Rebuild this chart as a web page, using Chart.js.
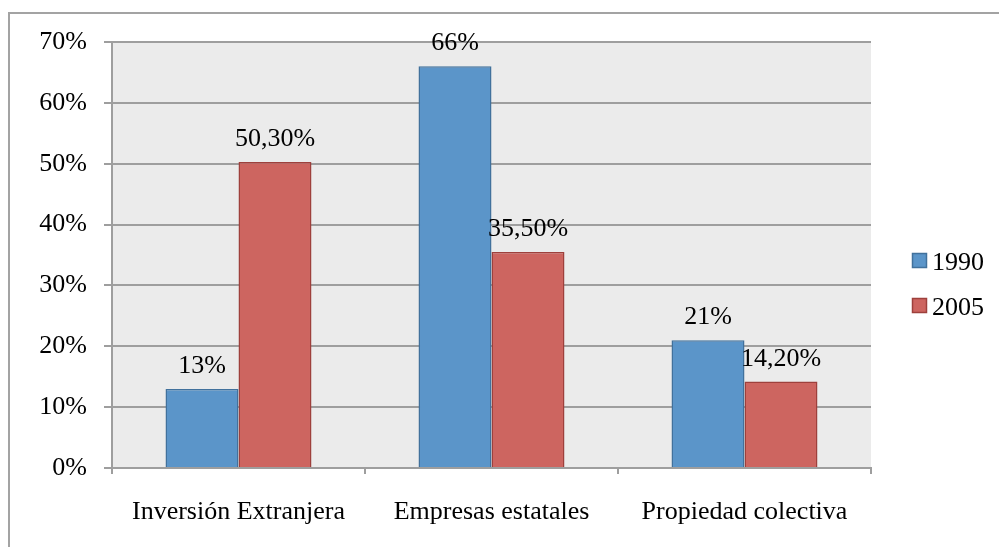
<!DOCTYPE html>
<html>
<head>
<meta charset="utf-8">
<script src="https://cdn.jsdelivr.net/npm/chart.js@4/dist/chart.umd.min.js"></script>
<style>
  html, body { margin: 0; padding: 0; background: #ffffff; }
  #wrap { width: 999px; height: 547px; }
</style>
</head>
<body>
<div id="wrap"><canvas id="ownershipChart" width="999" height="547"></canvas></div>
<script>
// Chart data
const categories = ['Inversión Extranjera', 'Empresas estatales', 'Propiedad colectiva'];
const seriesNames = ['1990', '2005'];
const values1990 = [13, 66, 21];
const values2005 = [50.3, 35.5, 14.2];
const labels1990 = ['13%', '66%', '21%'];
const labels2005 = ['50,30%', '35,50%', '14,20%'];
const yTicks = [0, 10, 20, 30, 40, 50, 60, 70];

const FONT = "'Liberation Serif', 'Times New Roman', serif";
const GRID = '#9e9e9e';

const fills = ['#5b95c9', '#cd6560'];
const borders = ['#41719c', '#9e403c'];
const valueLabels = [labels1990, labels2005];

// plot area background + outer frame
const backdrop = {
    id: 'backdrop',
    beforeDraw(chart) {
        const { ctx, chartArea: a } = chart;
        ctx.save();
        ctx.fillStyle = '#ebebeb';
        ctx.fillRect(a.left, a.top, a.right - a.left, a.bottom - a.top);
        ctx.strokeStyle = '#a3a3a3';
        ctx.lineWidth = 2;
        ctx.strokeRect(9, 13, 1020, 560);
        ctx.restore();
    }
};

// value labels over each bar
const barValues = {
    id: 'barValues',
    afterDatasetsDraw(chart) {
        const ctx = chart.ctx;
        ctx.save();
        ctx.font = '26px ' + FONT;
        ctx.fillStyle = '#000';
        ctx.textAlign = 'center';
        ctx.textBaseline = 'alphabetic';
        chart.data.datasets.forEach((ds, i) => {
            chart.getDatasetMeta(i).data.forEach((bar, j) => {
                ctx.fillText(valueLabels[i][j], bar.x, bar.y - 16);
            });
        });
        ctx.restore();
    }
};

// legend on the right
const sideLegend = {
    id: 'sideLegend',
    afterDraw(chart) {
        const ctx = chart.ctx;
        ctx.save();
        ctx.font = '26px ' + FONT;
        ctx.textAlign = 'left';
        ctx.textBaseline = 'middle';
        chart.data.datasets.forEach((ds, i) => {
            const y = 253 + i * 45;
            ctx.fillStyle = ds.backgroundColor;
            ctx.fillRect(912, y, 15, 15);
            ctx.strokeStyle = ds.borderColor;
            ctx.lineWidth = 1.5;
            ctx.strokeRect(912.5, y + 0.5, 14, 14);
            ctx.fillStyle = '#000';
            ctx.fillText(ds.label, 932, y + 10);
        });
        ctx.restore();
    }
};

new Chart(document.getElementById('ownershipChart'), {
    type: 'bar',
    data: {
        labels: categories,
        datasets: [
            { label: seriesNames[0], data: values1990, backgroundColor: fills[0], borderColor: borders[0], borderWidth: 1.5 },
            { label: seriesNames[1], data: values2005, backgroundColor: fills[1], borderColor: borders[1], borderWidth: 1.5 }
        ]
    },
    options: {
        responsive: false,
        animation: false,
        events: [],
        categoryPercentage: 0.577,
        barPercentage: 1,
        layout: { padding: { top: 42, right: 128, left: 0, bottom: 0 } },
        plugins: {
            legend: { display: false },
            tooltip: { enabled: false }
        },
        scales: {
            x: {
                afterFit(scale) { scale.height = 79; },
                grid: { offset: true, drawOnChartArea: false, drawTicks: true, tickLength: 6, color: GRID, lineWidth: 2 },
                border: { color: GRID, width: 2 },
                ticks: { color: '#000', font: { family: FONT, size: 26 }, padding: 23, maxRotation: 0 }
            },
            y: {
                min: 0,
                max: 70,
                afterFit(scale) { scale.width = 112; },
                afterBuildTicks(scale) { scale.ticks = yTicks.map(v => ({ value: v })); },
                grid: { color: GRID, lineWidth: 2, tickLength: 8 },
                border: { color: GRID, width: 2 },
                ticks: {
                    color: '#000',
                    font: { family: FONT, size: 26 },
                    padding: 17,
                    callback: v => v + '%'
                }
            }
        }
    },
    plugins: [backdrop, barValues, sideLegend]
});
</script>
</body>
</html>
